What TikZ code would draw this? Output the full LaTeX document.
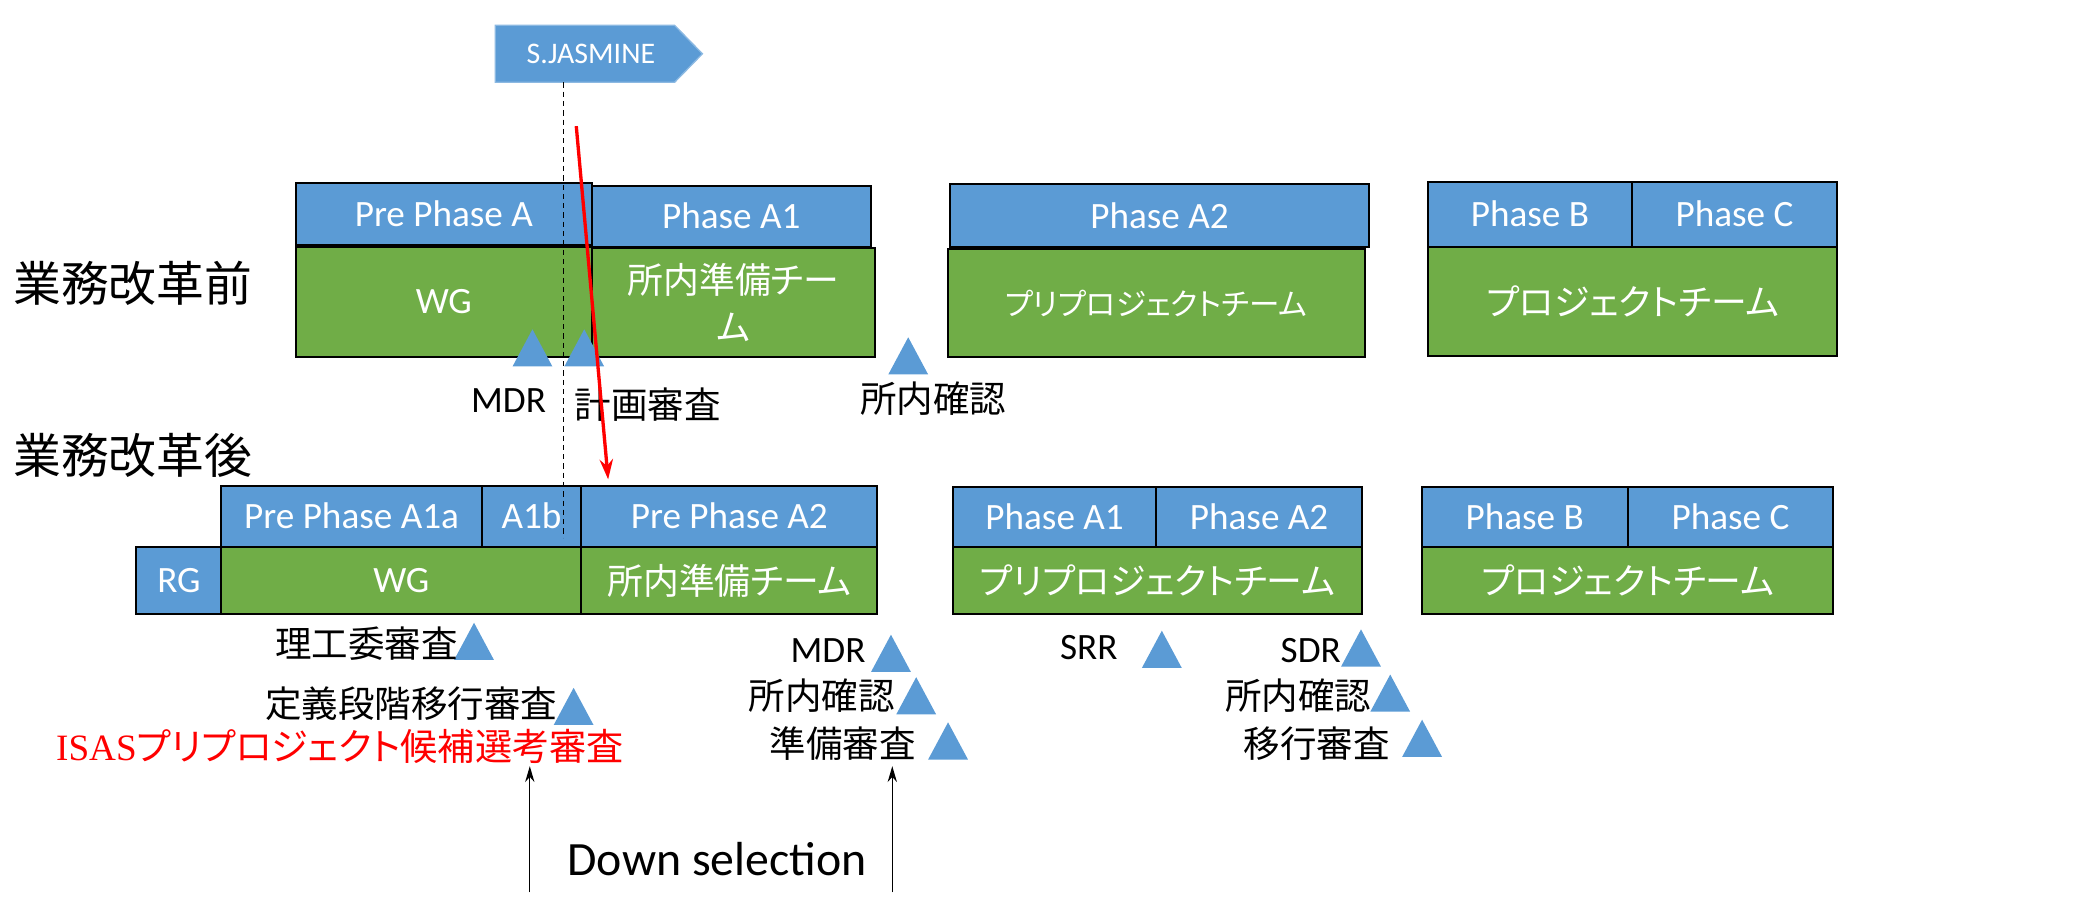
\documentclass[tikz,border=0pt]{standalone}
\usepackage{fontspec}
\setmainfont{Carlito}
\newfontfamily\jp{Noto Sans CJK JP}
\newfontfamily\jpp[RawFeature=+palt]{Noto Sans CJK JP}
\newfontfamily\tms{Liberation Serif}
\usetikzlibrary{arrows.meta}
\definecolor{boxblue}{HTML}{5B9BD5}
\definecolor{boxgreen}{HTML}{70AD47}
\definecolor{trired}{HTML}{FF0000}
\newcommand\milestone[2]{\fill[boxblue] (#1-15,#2) -- (#1,#2-28) -- (#1+15,#2) -- cycle;}
\begin{document}
\begin{tikzpicture}[x=1pt,y=-1pt,
  phase/.style={draw=black, line width=1.5, fill=boxblue, text=white, inner sep=0, anchor=north west, font=\fontsize{28}{30}\selectfont},
  team/.style={draw=black, line width=1.5, fill=boxgreen, text=white, inner sep=0, anchor=north west, font=\fontsize{28}{30}\selectfont},
  jteam/.style={team, font=\jpp\fontsize{27}{36}\selectfont, align=center},
  lab/.style={inner sep=0, font=\fontsize{28}{32}\selectfont},
  jlab/.style={inner sep=0, font=\jp\fontsize{27.5}{32}\selectfont},
  side/.style={inner sep=0, font=\jp\fontsize{36}{40}\selectfont},
  uparrow/.style={line width=1, -{Stealth[length=12,width=7]}}
]
\useasboundingbox (0,0) rectangle (1568,682);

% S.JASMINE marker
\filldraw[fill=boxblue, draw=boxblue!70!white, line width=1] (373,19) -- (508,19) -- (529,40.5) -- (508,62) -- (373,62) -- cycle;
\node[inner sep=0, text=white, font=\fontsize{22.5}{26}\selectfont] (sj) at (445,40.5) {S.JASMINE};

% side titles
\node[side] (before) at (100,213) {業務改革前};
\node[side] (after) at (100,343) {業務改革後};

% ---- before ----
\node[phase, minimum width=223, minimum height=47] (ppa) at (222,137) {Pre Phase A};
\node[phase, minimum width=210, minimum height=46] (pa1) at (445,139) {Phase A1};
\node[team, minimum width=223, minimum height=83] (wg1) at (222,185) {WG};
\node[jteam, minimum width=213, minimum height=82] (snj1) at (445,186) {所内準備チー\\ム};
\node[phase, minimum width=315, minimum height=47] (pa2) at (715,138) {Phase A2};
\node[jteam, minimum width=314, minimum height=81, font=\jpp\fontsize{23}{28}\selectfont] (ppt1) at (713,187) {プリプロジェクトチーム};
\node[phase, minimum width=153, minimum height=49] (pb1) at (1075,136) {Phase B};
\node[phase, minimum width=155, minimum height=49] (pc1) at (1228,136) {Phase C};
\node[jteam, minimum width=308, minimum height=82] (pt1) at (1075,185) {プロジェクトチーム};

\milestone{401}{276}
\milestone{440}{276}
\milestone{684}{282}
\node[lab] (mdr1) at (383,302) {MDR};
\node[jlab] (kk1) at (488,305) {計画審査};
\node[jlab] (sk1) at (703,300) {所内確認};

% ---- after ----
\node[phase, minimum width=196, minimum height=46] (ppa1a) at (166,365) {Pre Phase A1a};
\node[phase, minimum width=75, minimum height=46] (a1b) at (362,365) {A1b};
\node[phase, minimum width=223, minimum height=46] (ppa2) at (437,365) {Pre Phase A2};
\node[phase, minimum width=64, minimum height=51] (rg) at (102,411) {RG};
\node[team, minimum width=271, minimum height=51] (wg2) at (166,411) {WG};
\node[jteam, minimum width=223, minimum height=51] (snj2) at (437,411) {所内準備チーム};
\node[phase, minimum width=153, minimum height=45] (pa1b) at (717,366) {Phase A1};
\node[phase, minimum width=155, minimum height=45] (pa2b) at (870,366) {Phase A2};
\node[jteam, minimum width=308, minimum height=51] (ppt2) at (717,411) {プリプロジェクトチーム};
\node[phase, minimum width=155, minimum height=45] (pbb) at (1070,366) {Phase B};
\node[phase, minimum width=155, minimum height=45] (pcb) at (1225,366) {Phase C};
\node[jteam, minimum width=310, minimum height=51] (pt2) at (1070,411) {プロジェクトチーム};

\milestone{357}{497}
\milestone{432}{546}
\milestone{671}{506}
\milestone{690}{538}
\milestone{714}{572}
\milestone{875}{503}
\milestone{1025}{502}
\milestone{1047}{536}
\milestone{1071}{570}

\node[jlab, anchor=east] (rk) at (345,485) {理工委審査};
\node[jlab, anchor=east] (tg) at (420,530) {定義段階移行審査};
\node[inner sep=0, anchor=east, text=trired, font=\jpp\fontsize{28}{32}\selectfont] (isas) at (470,562) {{\tms ISAS}プリプロジェクト候補選考審査};
\node[lab, anchor=east] (mdr2) at (652,490) {MDR};
\node[jlab, anchor=east] (sk2) at (674,524) {所内確認};
\node[jlab, anchor=east] (jb) at (690,560) {準備審査};
\node[lab] (srr) at (820,488) {SRR};
\node[lab, anchor=east] (sdr) at (1010,490) {SDR};
\node[jlab, anchor=east] (sk3) at (1033,524) {所内確認};
\node[jlab, anchor=east] (ik) at (1047,560) {移行審査};

\node[inner sep=0, font=\fontsize{36}{40}\selectfont] (ds) at (540,647) {Down selection};

% lines and arrows
\coordinate (dtop) at (424.5,62);
\coordinate (dbot) at (424.5,405);
\draw[line width=0.8, dash pattern=on 4pt off 3pt] (dtop) -- (dbot);
\coordinate (rs) at (434,95);
\coordinate (re) at (458,361);
\draw[red, line width=2.5, -{Stealth[length=15,width=10]}] (rs) -- (re);
\coordinate (ua1) at (399,672);
\coordinate (ub1) at (399,577);
\coordinate (ua2) at (672,672);
\coordinate (ub2) at (672,577);
\draw[uparrow] (ua1) -- (ub1);
\draw[uparrow] (ua2) -- (ub2);
\end{tikzpicture}
\end{document}
